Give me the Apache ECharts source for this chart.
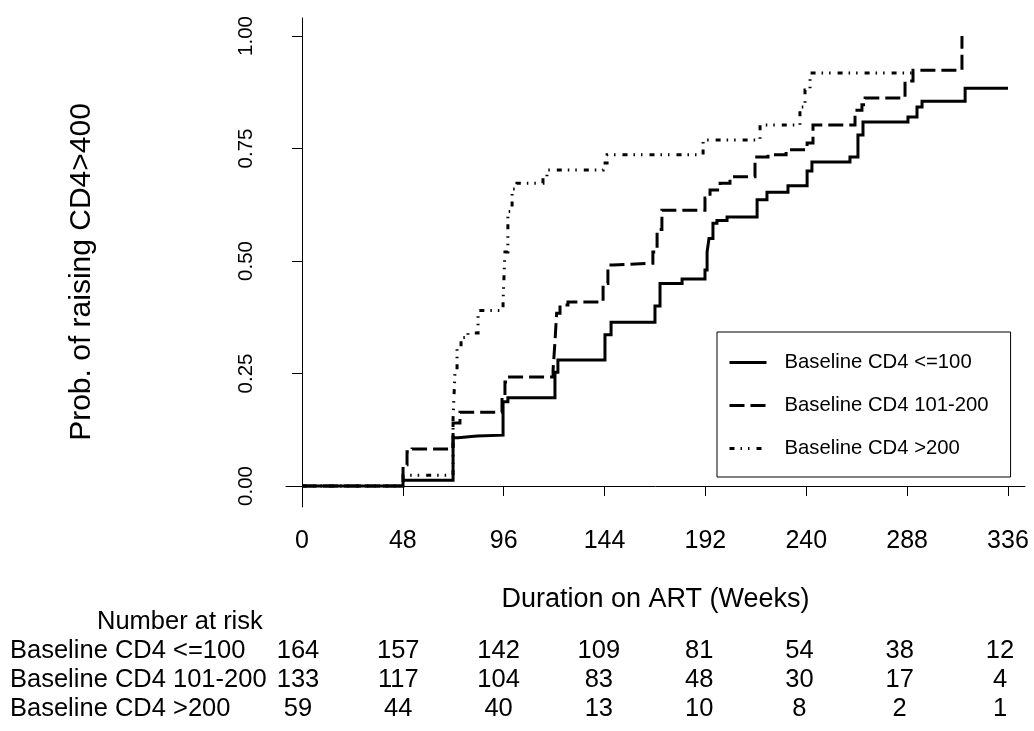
<!DOCTYPE html>
<html>
<head>
<meta charset="utf-8" />
<title>CD4 recovery</title>
<script src="https://cdn.jsdelivr.net/npm/echarts@6/dist/echarts.min.js"></script>
<style>
  html, body { margin: 0; padding: 0; background: #fff; }
  #chart { width: 1034px; height: 731px; }
</style>
</head>
<body>
<div id="chart"></div>
<script>
// group names
var groupNames = ['Baseline CD4 <=100', 'Baseline CD4 101-200', 'Baseline CD4 >200'];

// step times (weeks) and cumulative probability
var lowTimes = [0, 48.1, 71.9, 74.3, 83.3, 95.7, 98, 120.4, 121.8, 144.2, 147.1, 168, 170.4, 180.9, 191.8, 192.8, 193.7, 195.6, 197.5, 202.3, 216.6, 221.3, 231.3, 240.4, 242.7, 260.8, 264.6, 267, 288.4, 292.7, 295.1, 315.6];
var lowProbs = [0, 0.013, 0.107, 0.111, 0.113, 0.187, 0.196, 0.253, 0.28, 0.336, 0.364, 0.40, 0.45, 0.46, 0.48, 0.52, 0.55, 0.584, 0.59, 0.598, 0.636, 0.653, 0.667, 0.70, 0.72, 0.731, 0.78, 0.809, 0.82, 0.842, 0.855, 0.884];
var lowEnd = 336;

var midTimes = [0, 48.1, 50, 52.4, 71.9, 75.2, 95.2, 96.6, 98, 119.5, 120.4, 121.2, 122.8, 126.6, 143.3, 145.6, 148, 167, 169, 171.3, 191.8, 194.2, 199, 203.7, 215.6, 221.8, 230.4, 240.4, 243.2, 263.2, 266.5, 268, 287, 290.8, 314.1];
var midProbs = [0, 0.047, 0.076, 0.082, 0.14, 0.164, 0.20, 0.231, 0.242, 0.258, 0.32, 0.384, 0.402, 0.409, 0.45, 0.491, 0.495, 0.52, 0.57, 0.613, 0.64, 0.658, 0.673, 0.687, 0.731, 0.736, 0.747, 0.762, 0.802, 0.835, 0.847, 0.862, 0.90, 0.924, 1.0];
var midEnd = 314.1;

var highTimes = [0, 48.1, 71.9, 72.8, 73.8, 75.7, 79, 83.8, 95.7, 96.6, 98, 100, 102.3, 114.7, 116.6, 143.3, 145.2, 190.9, 218, 237, 239.4, 241.8];
var highProbs = [0, 0.024, 0.15, 0.25, 0.31, 0.33, 0.34, 0.39, 0.41, 0.52, 0.61, 0.66, 0.673, 0.684, 0.702, 0.718, 0.736, 0.769, 0.802, 0.842, 0.88, 0.918];
var highEnd = 290.8;

// axis ticks
var xTicks = [0, 48, 96, 144, 192, 240, 288, 336];
var yTicks = [0, 0.25, 0.5, 0.75, 1];

// number at risk
var riskTimes = [0, 48, 96, 144, 192, 240, 288, 336];
var riskLow = [164, 157, 142, 109, 81, 54, 38, 12];
var riskMid = [133, 117, 104, 83, 48, 30, 17, 4];
var riskHigh = [59, 44, 40, 13, 10, 8, 2, 1];

var font = "'Liberation Sans', Arial, Helvetica, sans-serif";

// turn step times/probs into a step path
function stepPoints(times, probs, end) {
  var pts = [[times[0], probs[0]]];
  for (var i = 1; i < times.length; i++) {
    pts.push([times[i], probs[i - 1]]);
    pts.push([times[i], probs[i]]);
  }
  if (end > times[times.length - 1]) pts.push([end, probs[probs.length - 1]]);
  return pts;
}

var riskData = [];
[riskLow, riskMid, riskHigh].forEach(function(row, r) {
  row.forEach(function(n, i) {
    riskData.push([riskTimes[i], r, n]);
  });
});

var myChart = echarts.init(document.getElementById('chart'), null, { renderer: 'canvas' });

var option = {
  backgroundColor: '#fff',
  animation: false,
  title: {
    text: 'Number at risk',
    left: 97,
    top: 609,
    padding: 0,
    textStyle: { fontFamily: font, fontSize: 25.5, fontWeight: 'normal', color: '#000' }
  },
  legend: {
    data: groupNames,
    orient: 'vertical',
    left: 717,
    top: 332,
    padding: [20, 22, 18, 11],
    borderColor: '#000',
    borderWidth: 1,
    itemWidth: 37,
    itemHeight: 14,
    itemGap: 22,
    selectedMode: false,
    itemStyle: { color: 'rgba(0,0,0,0)', opacity: 0, borderWidth: 0 },
    lineStyle: { width: 3, color: '#000' },
    textStyle: { fontFamily: font, fontSize: 20.3, lineHeight: 21, color: '#000', padding: [0, 0, 0, 13] }
  },
  grid: [
    { left: 286, right: 9, top: 18, bottom: 224, outerBoundsMode: 'none' },
    { left: 286, right: 9, top: 636.5, height: 87, outerBoundsMode: 'none' }
  ],
  xAxis: [{
    type: 'value',
    gridIndex: 0,
    min: -7.6,
    max: 344.1,
    name: 'Duration on ART (Weeks)',
    nameLocation: 'middle',
    nameGap: 79,
    nameTextStyle: { fontFamily: font, fontSize: 27, color: '#000' },
    axisLine: { show: true, lineStyle: { color: '#000', width: 1 } },
    axisTick: { show: true, length: 10, customValues: xTicks, lineStyle: { color: '#000', width: 1 } },
    axisLabel: { customValues: xTicks, margin: 22, fontFamily: font, fontSize: 25, color: '#000' },
    splitLine: { show: false }
  }, {
    type: 'value',
    gridIndex: 1,
    min: -5.74,
    max: 347.97,
    show: false
  }],
  yAxis: [{
    type: 'value',
    gridIndex: 0,
    min: -0.0467,
    max: 1.04,
    name: 'Prob. of raising CD4>400',
    nameLocation: 'middle',
    nameRotate: 90,
    nameGap: 189,
    nameTextStyle: { fontFamily: font, fontSize: 30, color: '#000', padding: [0, 19, 0, 0] },
    axisLine: { show: true, lineStyle: { color: '#000', width: 1 } },
    axisTick: { show: true, length: 10, customValues: yTicks, lineStyle: { color: '#000', width: 1 } },
    axisLabel: {
      customValues: yTicks,
      rotate: 90,
      margin: 29,
      fontFamily: font,
      fontSize: 20.5,
      color: '#000',
      formatter: function(v) { return v.toFixed(2); }
    },
    splitLine: { show: false }
  }, {
    type: 'category',
    gridIndex: 1,
    data: groupNames,
    inverse: true,
    axisLine: { show: false },
    axisTick: { show: false },
    axisLabel: { interval: 0, align: 'left', margin: 276, fontFamily: font, fontSize: 25.5, color: '#000' },
    splitLine: { show: false }
  }],
  series: [{
    name: groupNames[0],
    type: 'line',
    symbol: 'none',
    data: stepPoints(lowTimes, lowProbs, lowEnd),
    lineStyle: { color: '#000', width: 3, type: 'solid', cap: 'butt', join: 'miter' },
    itemStyle: { color: '#000' }
  }, {
    name: groupNames[1],
    type: 'line',
    symbol: 'none',
    data: stepPoints(midTimes, midProbs, midEnd),
    lineStyle: { color: '#000', width: 3, type: [15, 6], cap: 'butt', join: 'miter' },
    itemStyle: { color: '#000' }
  }, {
    name: groupNames[2],
    type: 'line',
    symbol: 'none',
    data: stepPoints(highTimes, highProbs, highEnd),
    lineStyle: { color: '#000', width: 3, type: [5, 6, 1.5, 6, 1.5, 7], cap: 'butt', join: 'miter' },
    itemStyle: { color: '#000' }
  }, {
    name: 'risk',
    type: 'scatter',
    xAxisIndex: 1,
    yAxisIndex: 1,
    symbolSize: 1,
    silent: true,
    itemStyle: { color: 'rgba(0,0,0,0)', opacity: 1 },
    label: {
      show: true,
      position: 'inside',
      fontFamily: font,
      fontSize: 25.5,
      color: '#000',
      opacity: 1,
      textBorderWidth: 0,
      formatter: function(p) { return p.value[2]; }
    },
    data: riskData
  }]
};

myChart.setOption(option);
</script>
</body>
</html>
